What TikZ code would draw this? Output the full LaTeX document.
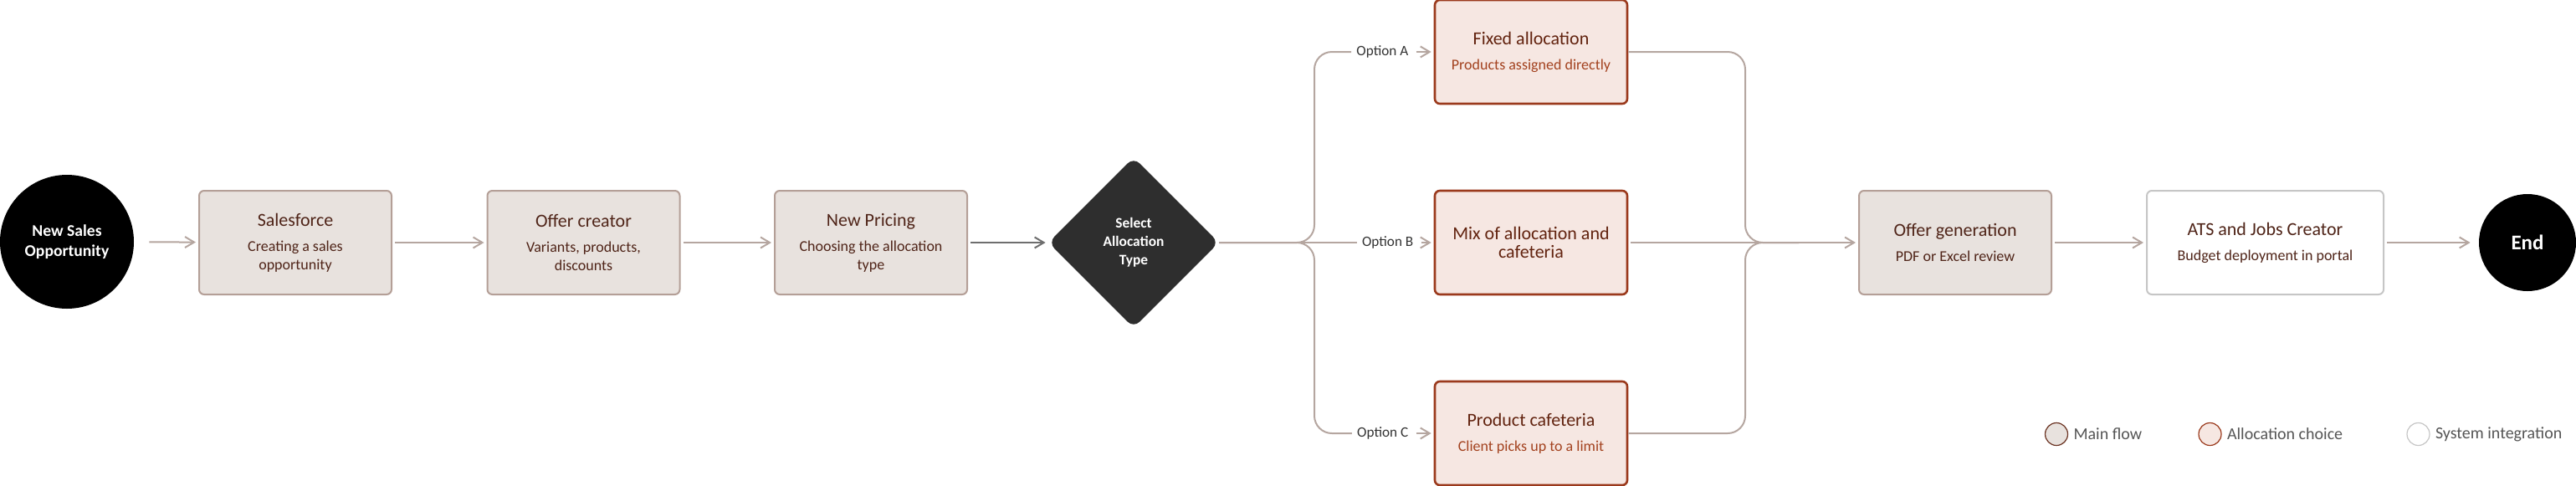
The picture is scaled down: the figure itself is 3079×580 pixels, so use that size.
\documentclass[tikz,border=0pt]{standalone}
\usepackage{fontspec}
\setmainfont{Carlito}
\usetikzlibrary{arrows.meta,positioning,shapes.geometric}
\definecolor{mainfill}{HTML}{E8E2DE}
\definecolor{mainline}{HTML}{B49F97}
\definecolor{maintext}{HTML}{4F2418}
\definecolor{allocfill}{HTML}{F6E7E2}
\definecolor{allocline}{HTML}{9B3A1D}
\definecolor{alloctitle}{HTML}{62230F}
\definecolor{allocsub}{HTML}{A3421F}
\definecolor{sysline}{HTML}{C6C6C6}
\definecolor{linecol}{HTML}{B5A6A0}
\definecolor{darkarrow}{HTML}{6E6E6E}
\definecolor{opttext}{HTML}{333333}
\definecolor{decfill}{HTML}{2E2E2E}
\definecolor{legmain}{HTML}{6B3322}
\definecolor{legtextcol}{HTML}{555555}
\begin{document}
\begin{tikzpicture}[x=0.5pt,y=-0.5pt,
  >={Straight Barb[length=5.5pt,width=6.5pt]},
  flowbox/.style={rectangle,rounded corners=3pt,line width=1pt,draw=mainline,fill=mainfill,text=maintext,
    minimum width=115pt,minimum height=62pt,align=center,font=\fontsize{11}{11}\selectfont},
  allocbox/.style={flowbox,draw=allocline,fill=allocfill,text=alloctitle,line width=1.3pt},
  sysbox/.style={flowbox,draw=sysline,fill=white,minimum width=141.5pt},
  terminal/.style={circle,fill=black,text=white,align=center,inner sep=0pt},
  decision/.style={diamond,fill=decfill,text=white,rounded corners=5pt,minimum width=102pt,minimum height=102pt,
    align=center,font=\bfseries\fontsize{8.7}{11}\selectfont},
  optlabel/.style={text=opttext,font=\fontsize{8.6}{10}\selectfont,inner sep=3pt},
  conn/.style={draw=linecol,line width=1pt},
  flowarrow/.style={conn,->,shorten <=1.5pt,shorten >=1.5pt},
  legdot/.style={circle,minimum size=13.5pt,inner sep=0pt,line width=0.6pt},
  legtext/.style={text=legtextcol,font=\fontsize{10}{12}\selectfont,inner sep=3pt}]
\useasboundingbox (0,0) rectangle (3079,580);

% main line
\node[terminal,minimum size=80pt,font=\bfseries\fontsize{9.8}{12}\selectfont] (start) at (80,289) {New Sales\\Opportunity};
\node[flowbox] (sf) at (353,290) {Salesforce\\[4pt]{\small Creating a sales}\\{\small opportunity}};
\node[flowbox] (oc) at (697.5,290) {Offer creator\\[4pt]{\small Variants, products,}\\{\small discounts}};
\node[flowbox] (np) at (1041,290) {New Pricing\\[4pt]{\small Choosing the allocation}\\{\small type}};
\node[decision] (sel) at (1355,290) {Select\\Allocation\\Type};

% allocation options
\node[allocbox] (fixA) at (1830,62) {Fixed allocation\\[4pt]{\small\color{allocsub}Products assigned directly}};
\node[allocbox] (mix) at (1830,290) {Mix of allocation and\\cafeteria};
\node[allocbox] (caf) at (1830,518) {Product cafeteria\\[4pt]{\small\color{allocsub}Client picks up to a limit}};
\node[optlabel,left=12pt of fixA] (optA) {Option A};
\node[optlabel,left=9pt of mix] (optB) {Option B};
\node[optlabel,left=12pt of caf] (optC) {Option C};

\node[flowbox] (og) at (2337,290) {Offer generation\\[4pt]{\small PDF or Excel review}};
\node[sysbox] (ats) at (2707.5,290) {ATS and Jobs Creator\\[4pt]{\small Budget deployment in portal}};
\node[terminal,minimum size=58pt,font=\bfseries\fontsize{12.5}{14}\selectfont] (end) at (3021,290) {End};

\coordinate (bl) at (1571,290);
\coordinate (br) at (2086,290);
\coordinate (jr) at (2150,290);

\draw[flowarrow,shorten <=9pt] (start) -- (sf);
\draw[flowarrow] (sf) -- (oc);
\draw[flowarrow] (oc) -- (np);
\draw[flowarrow,draw=darkarrow] (np) -- (sel);

\draw[conn] (sel.east) -- (optB.west);
\draw[conn,rounded corners=10.5pt] (sel.east) -- (bl) |- (optA.west);
\draw[conn,rounded corners=10.5pt] (sel.east) -- (bl) |- (optC.west);
\draw[flowarrow] (optA) -- (fixA);
\draw[flowarrow] (optB) -- (mix);
\draw[flowarrow] (optC) -- (caf);

\draw[conn,rounded corners=10.5pt] (fixA.east) -| (br) -- (jr);
\draw[conn,rounded corners=10.5pt] (caf.east) -| (br) -- (jr);
\draw[flowarrow] (mix) -- (og);
\draw[flowarrow] (og) -- (ats);
\draw[flowarrow,shorten >=5pt] (ats) -- (end);

% legend
\node[legdot,draw=legmain,fill=mainfill] (lg1) at (2458,519) {};
\node[legtext,right=0pt of lg1] (lg1t) {Main flow};
\node[legdot,draw=allocline,fill=allocfill] (lg2) at (2641.5,519) {};
\node[legtext,right=0pt of lg2] (lg2t) {Allocation choice};
\node[legdot,draw=sysline,fill=white] (lg3) at (2890.5,519) {};
\node[legtext,right=0pt of lg3] (lg3t) {System integration};
\end{tikzpicture}
\end{document}
